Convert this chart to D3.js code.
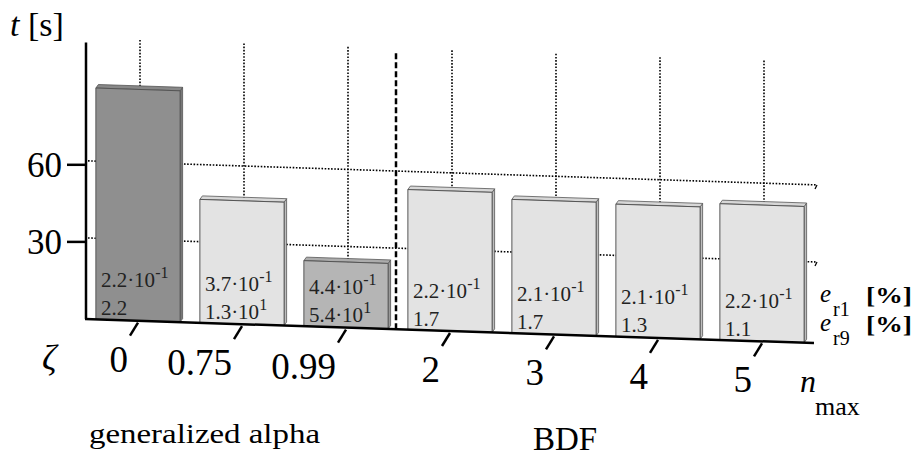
<!DOCTYPE html>
<html>
<head>
<meta charset="utf-8">
<script src="https://cdn.jsdelivr.net/npm/d3@7"></script>
<style>
  body { margin: 0; background: #fff; }
</style>
</head>
<body>
<div id="chart"></div>
<script>
// values
var categories = ["0", "0.75", "0.99", "2", "3", "4", "5"];
var times = [90, 48, 25.5, 54.5, 52, 51.5, 53];          // t [s]
var er1Mant = ["2.2", "3.7", "4.4", "2.2", "2.1", "2.1", "2.2"];
var er1Exp = ["-1", "-1", "-1", "-1", "-1", "-1", "-1"];
var er9Mant = ["2.2", "1.3", "5.4", "1.7", "1.7", "1.3", "1.1"];
var er9Exp = [null, "1", "1", null, null, null, null];
var yTicks = [30, 60];
var groups = ["generalized alpha", "BDF"];

var W = 916, H = 457;
var FONT = "Liberation Serif";
var x0 = 86, x1 = 814, base0 = 319, slope = 0.033;   // front floor line
var back = [2, -4];                                    // depth offset of back wall
var yMax = 108;

var svg = d3.select("#chart").append("svg").attr("width", W).attr("height", H);

var x = d3.scaleBand().domain(categories).range([x0, x1]).paddingInner(0.19).paddingOuter(0.095);
var h = d3.scaleLinear().domain([0, yMax]).range([0, 2.57 * yMax]);
function floor(px) { return base0 + (px - x0) * slope; }

function txt(px, py, s, size) {
  return svg.append("text").attr("x", px).attr("y", py)
    .attr("font-family", FONT).attr("font-size", size).attr("fill", "#000").text(s);
}

var fills = { "0": "#8f8f8f", "0.99": "#b5b5b5" };
function fillOf(c) { return fills[c] || "#e3e3e3"; }

// back wall grid: horizontal dotted lines
var gx1 = 817;
yTicks.forEach(function(v) {
  svg.append("line")
    .attr("x1", x0 + 2).attr("y1", floor(x0 + 2) - h(v) + back[1])
    .attr("x2", gx1).attr("y2", floor(gx1) - h(v) + back[1])
    .attr("stroke", "#000").attr("stroke-width", 1.6).attr("stroke-dasharray", "1.6,1.6");
  svg.append("line")
    .attr("x1", gx1).attr("y1", floor(gx1) - h(v) + back[1])
    .attr("x2", gx1 - 2).attr("y2", floor(gx1) - h(v) + back[1] + 4)
    .attr("stroke", "#000").attr("stroke-width", 1.3);
});

// back wall grid: vertical dotted lines at each category
categories.forEach(function(c) {
  var cx = x(c) + x.bandwidth() / 2 + back[0];
  svg.append("line")
    .attr("x1", cx).attr("x2", cx)
    .attr("y1", floor(cx) + back[1]).attr("y2", floor(cx) - h(yMax) + back[1])
    .attr("stroke", "#000").attr("stroke-width", 1.6).attr("stroke-dasharray", "1.6,1.6");
});

// bars
var dx = 2.5, dy = -3.5;
categories.forEach(function(c, i) {
  var xl = x(c), xr = xl + x.bandwidth();
  var bl = floor(xl), br = floor(xr), hh = h(times[i]);
  var g = svg.append("g");
  var col = d3.color(fillOf(c));
  // side face
  g.append("polygon")
    .attr("points", [[xr, br], [xr + dx, br + dy], [xr + dx, br - hh + dy], [xr, br - hh]].join(" "))
    .attr("fill", col.darker(0.5)).attr("stroke", "#555").attr("stroke-width", 0.8);
  // top face
  g.append("polygon")
    .attr("points", [[xl, bl - hh], [xr, br - hh], [xr + dx, br - hh + dy], [xl + dx, bl - hh + dy]].join(" "))
    .attr("fill", col.darker(0.15)).attr("stroke", "#555").attr("stroke-width", 0.8);
  // front face
  g.append("polygon")
    .attr("points", [[xl, bl], [xr, br], [xr, br - hh], [xl, bl - hh]].join(" "))
    .attr("fill", col).attr("stroke", "#555").attr("stroke-width", 1);

  // error annotations
  var t1 = txt(xl + 5, bl - 32, er1Mant[i] + "·10", 21).attr("fill", "#222");
  t1.append("tspan").attr("dy", -9).attr("font-size", 16).text(er1Exp[i]);
  var t2 = txt(xl + 5, bl - 4, er9Mant[i] + (er9Exp[i] ? "·10" : ""), 21).attr("fill", "#222");
  if (er9Exp[i]) t2.append("tspan").attr("dy", -9).attr("font-size", 16).text(er9Exp[i]);
});

// dashed separator between the two methods
var sepX = (x("0.99") + x.bandwidth() + x("2")) / 2 - 2;
svg.append("line")
  .attr("x1", sepX).attr("x2", sepX)
  .attr("y1", floor(sepX)).attr("y2", floor(sepX) - h(yMax))
  .attr("stroke", "#000").attr("stroke-width", 2.5).attr("stroke-dasharray", "6,3");

// axes
svg.append("line").attr("x1", x0).attr("x2", x0).attr("y1", base0).attr("y2", base0 - h(yMax) + 1)
  .attr("stroke", "#000").attr("stroke-width", 2.5);
svg.append("line").attr("x1", x0 - 1).attr("y1", base0).attr("x2", x1).attr("y2", floor(x1))
  .attr("stroke", "#000").attr("stroke-width", 2.5);

yTicks.forEach(function(v) {
  var ty = floor(x0) - h(v);
  svg.append("line").attr("x1", 67).attr("x2", x0).attr("y1", ty).attr("y2", ty)
    .attr("stroke", "#000").attr("stroke-width", 2.5);
  txt(62, ty + 12, v, 35).attr("text-anchor", "end");
});

// category ticks + labels
categories.forEach(function(c) {
  var cx = x(c) + x.bandwidth() / 2;
  var fy = floor(cx);
  svg.append("line").attr("x1", cx).attr("y1", fy + 2).attr("x2", cx - 8).attr("y2", fy + 15)
    .attr("stroke", "#000").attr("stroke-width", 2.5);
  txt(cx - 10, fy + 51, c, 37).attr("text-anchor", "end");
});

// axis titles
var tt = txt(10, 36, "", 34);
tt.append("tspan").attr("font-style", "italic").text("t");
tt.append("tspan").text(" [s]");

txt(42, 370, "ζ", 36).attr("font-style", "italic");

txt(800, 392, "n", 32).attr("font-style", "italic");
txt(815, 415, "max", 26);

[["r1", 302], ["r9", 331]].forEach(function(r) {
  txt(820, r[1], "e", 25).attr("font-style", "italic");
  txt(833, r[1] + 14, r[0], 20);
  txt(866, r[1] + 1, "[%]", 24).attr("font-weight", "bold").attr("textLength", 46).attr("lengthAdjust", "spacingAndGlyphs");
});

// group labels
txt(89, 443, groups[0], 28).attr("textLength", 231).attr("lengthAdjust", "spacingAndGlyphs");
txt(533, 450, groups[1], 33);
</script>
</body>
</html>
